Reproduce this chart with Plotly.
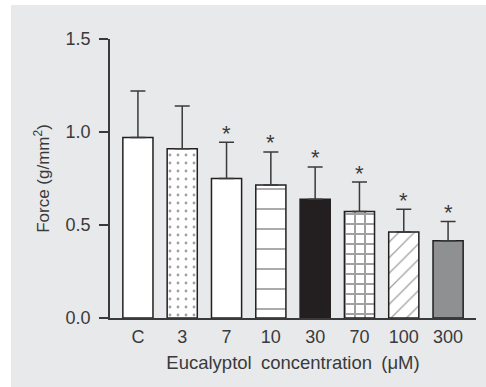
import plotly.graph_objects as go

categories = ["C", "3", "7", "10", "30", "70", "100", "300"]
means = [0.97, 0.91, 0.75, 0.715, 0.638, 0.573, 0.462, 0.415]
sem = [0.25, 0.23, 0.195, 0.178, 0.174, 0.158, 0.123, 0.104]
significant = [False, False, True, True, True, True, True, True]
y_ticks = [0.0, 0.5, 1.0, 1.5]

fill_colors = ["white", "white", "white", "white", "#231f20", "white", "white", "#8f9091"]
pattern_shapes = ["", ".", "", "-", "", "+", "/", ""]
pattern_fg = ["black", "#111111", "black", "#231f20", "black", "#231f20", "#9a9a9a", "black"]
pattern_size = [8, 8, 8, 20, 8, 10, 11, 8]
pattern_solid = [0.2, 0.1, 0.2, 0.09, 0.2, 0.36, 0.12, 0.2]

FONT = "Liberation Sans"
TXT = "#3a3a3a"

xs = list(range(len(categories)))
fig = go.Figure()
fig.add_trace(go.Bar(
    x=xs, y=means, width=0.68,
    marker=dict(
        color=fill_colors,
        line=dict(color="#231f20", width=1.5),
        pattern=dict(shape=pattern_shapes, fgcolor=pattern_fg, bgcolor=fill_colors,
                     size=pattern_size, solidity=pattern_solid, fillmode="overlay"),
    ),
    error_y=dict(type="data", array=sem, arrayminus=[0] * len(sem), symmetric=False,
                 color=TXT, thickness=1.5, width=7.5),
    showlegend=False,
))

for i, (m, s, sig) in enumerate(zip(means, sem, significant)):
    if sig:
        fig.add_annotation(x=i, y=m + s, text="*", showarrow=False, yanchor="middle",
                           yshift=9, font=dict(family=FONT, size=22, color=TXT))

fig.update_layout(
    width=486, height=387,
    margin=dict(l=110, r=10, t=39, b=69),
    paper_bgcolor="#e8e9eb", plot_bgcolor="rgba(0,0,0,0)",
    font=dict(family=FONT, size=18, color=TXT),
    shapes=[
        dict(type="rect", xref="paper", yref="paper", x0=-0.31, x1=-0.2705, y0=-0.3, y1=1.2,
             fillcolor="white", line=dict(width=0), layer="below"),
        dict(type="rect", xref="paper", yref="paper", x0=-0.31, x1=1.1, y0=1.1219, y1=1.2,
             fillcolor="white", line=dict(width=0), layer="below"),
    ],
)
fig.update_xaxes(
    range=[-0.63, 7.63], tickvals=xs, ticktext=categories, showline=True,
    linecolor=TXT, linewidth=1.5, ticks="", showgrid=False, zeroline=False,
    ticklabelstandoff=2,
    title=dict(text="Eucalyptol\u2002concentration\u2002(μM)", standoff=10,
               font=dict(family=FONT, size=18.5, color=TXT)),
    tickfont=dict(family=FONT, size=18, color=TXT),
)
fig.update_yaxes(
    range=[0, 1.5], tickvals=y_ticks, ticktext=["0.0", "0.5", "1.0", "1.5"],
    showline=True, linecolor=TXT, linewidth=1.5, ticks="outside", ticklen=9,
    tickcolor=TXT, tickwidth=1.5, showgrid=False, zeroline=False,
    ticklabelstandoff=5,
    title=dict(text="Force (g/mm<sup>2</sup>)", standoff=12,
               font=dict(family=FONT, size=17, color=TXT)),
    tickfont=dict(family=FONT, size=18, color=TXT),
)

fig.write_html("out.html")
